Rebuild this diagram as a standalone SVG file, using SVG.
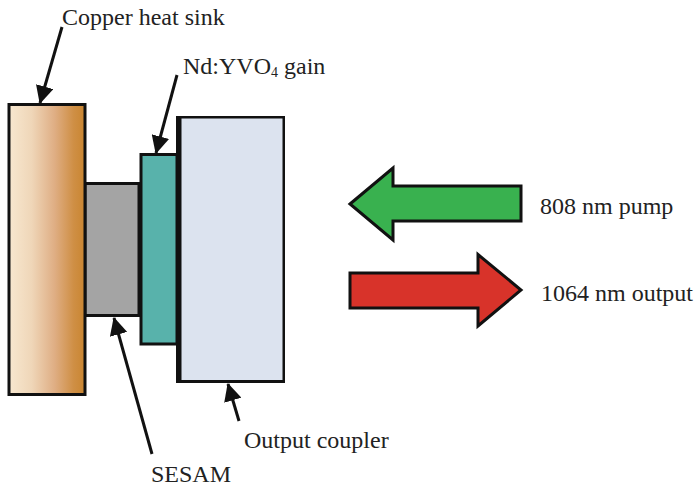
<svg xmlns="http://www.w3.org/2000/svg" width="700" height="492" viewBox="0 0 700 492">
<style>
text{font-family:"Liberation Serif","Times New Roman",serif;font-size:24px;fill:#222}
.b{stroke:#111;stroke-width:3}
.p{stroke:#111;stroke-width:3;stroke-linejoin:miter}
.c{stroke:#111;stroke-width:3;fill:none}
</style>
<defs>
<linearGradient id="cu" x1="0" x2="1" y1="0" y2="0">
<stop offset="0" stop-color="#f8e8d0"/><stop offset=".3" stop-color="#efd6b8"/><stop offset=".6" stop-color="#dfae84"/><stop offset=".85" stop-color="#cf8f45"/><stop offset="1" stop-color="#c98530"/>
</linearGradient>
<marker id="h" markerUnits="userSpaceOnUse" markerWidth="18" markerHeight="18" refX="17" refY="9" orient="auto" viewBox="0 0 18 18"><path d="M0 0L18 9L0 18Z" fill="#111"/></marker>
</defs>
<g id="sesam"><rect class="b" x="85" y="183.500" width="54" height="132" fill="#a4a4a4"/></g>
<g id="copper"><rect class="b" x="9" y="104.500" width="76" height="290" fill="url(#cu)"/></g>
<g id="gain"><rect class="b" x="141" y="154.500" width="36" height="189.500" fill="#58b2ab"/></g>
<g id="coupler"><rect x="176" y="116" width="109" height="267" fill="#111"/><rect x="181.500" y="118.500" width="101" height="261.500" fill="#dce3ef"/></g>
<g id="pump"><path class="p" d="M350 204L393 168V186H521V221H393V240Z" fill="#39b14f"/><text x="540" y="214">808 nm pump</text></g>
<g id="output"><path class="p" d="M350 273H478V254.500L521 290L478 326V308H350Z" fill="#d8332a"/><text x="541" y="301">1064 nm output</text></g>
<g id="connectors">
<path class="c" d="M62 27L40 103" marker-end="url(#h)"/>
<path class="c" d="M177 75L156 153" marker-end="url(#h)"/>
<path class="c" d="M152 454L114 318" marker-end="url(#h)"/>
<path class="c" d="M239 421L228 384" marker-end="url(#h)"/>
</g>
<g id="labels">
<text x="62" y="25">Copper heat sink</text>
<text x="183" y="74">Nd:YVO<tspan font-size="14" dy="3">4</tspan><tspan dy="-3"> gain</tspan></text>
<text x="151" y="482">SESAM</text>
<text x="244" y="448">Output coupler</text>
</g>
</svg>
